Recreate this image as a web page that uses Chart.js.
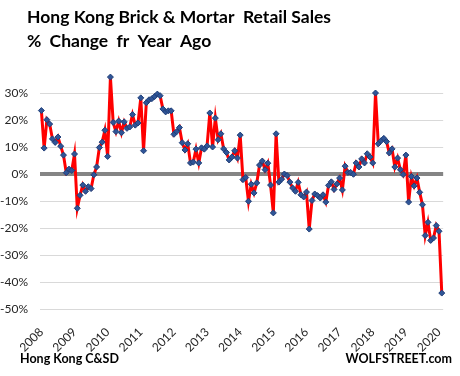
<!DOCTYPE html>
<html>
<head>
<meta charset="utf-8">
<script src="https://cdn.jsdelivr.net/npm/chart.js@4.4.1/dist/chart.umd.min.js"></script>
<style>
  html, body { margin: 0; padding: 0; background: #fff; }
</style>
</head>
<body>
<canvas id="retailChart" width="460" height="376"></canvas>
<script>
// % change from a year ago, monthly
const years = ["2008", "2009", "2010", "2011", "2012", "2013", "2014", "2015", "2016", "2017", "2018", "2019", "2020"];
const y2008 = [23.5, 9.6, 20.1, 18.5, 13.0, 11.7, 13.7, 10.3, 7.0, 0.5, 1.8, 1.3];
const y2009 = [7.4, -12.7, -7.9, -4.1, -6.4, -4.7, -5.4, -0.3, 2.6, 9.8, 11.8, 16.2];
const y2010 = [6.5, 35.9, 19.1, 15.7, 19.6, 15.3, 19.3, 16.9, 17.4, 22.0, 18.1, 18.9];
const y2011 = [28.2, 8.6, 26.4, 27.5, 27.9, 28.7, 29.6, 29.0, 24.1, 23.0, 23.4, 23.4];
const y2012 = [14.7, 15.7, 17.2, 11.6, 8.9, 11.2, 4.1, 4.4, 9.2, 4.1, 9.7, 9.2];
const y2013 = [10.4, 22.6, 10.0, 20.7, 12.7, 14.9, 9.3, 8.0, 5.2, 6.3, 8.6, 5.9];
const y2014 = [14.4, -2.1, -1.3, -10.1, -3.8, -7.0, -3.3, 3.3, 4.8, 1.6, 4.0, -4.1];
const y2015 = [-14.4, 14.9, -3.0, -1.9, 0.0, -0.6, -3.0, -5.2, -6.4, -3.1, -7.7, -8.5];
const y2016 = [-6.7, -20.4, -9.8, -7.4, -8.0, -8.9, -7.7, -10.4, -4.2, -2.9, -5.7, -3.7];
const y2017 = [-1.5, -5.9, 2.9, 0.6, 0.6, -0.1, 4.1, 2.6, 5.6, 4.1, 7.5, 6.3];
const y2018 = [4.1, 30.0, 11.2, 12.3, 13.2, 12.0, 7.8, 9.3, 2.6, 5.9, 1.6, -0.2];
const y2019 = [7.0, -10.4, -0.9, -4.4, -1.5, -6.8, -11.4, -22.8, -17.9, -24.6, -23.7, -19.1];
const y2020 = [-21.2, -44.1];

const titleLines = ["Hong Kong Brick & Mortar  Retail Sales", "% Change fr Year Ago"];
const sourceText = "Hong Kong C&SD";
const siteText = "WOLFSTREET.com";

const values = [].concat(y2008, y2009, y2010, y2011, y2012, y2013, y2014, y2015, y2016, y2017, y2018, y2019, y2020);
const labels = values.map((v, i) => years[Math.floor(i / 12)] + "-" + String((i % 12) + 1).padStart(2, "0"));

// title + footer texts
const textPlugin = {
  id: "texts",
  afterDraw(chart) {
    const c = chart.ctx;
    c.save();
    c.fillStyle = "#000";
    c.textBaseline = "alphabetic";
    c.textAlign = "left";
    c.font = "bold 17.5px Lato";
    c.fillText(titleLines[0], 27, 23);
    c.wordSpacing = "4px";
    c.fillText(titleLines[1], 27, 47);
    c.wordSpacing = "0px";
    c.font = "bold 12.5px Lato";
    c.fillText(sourceText, 20, 363);
    c.textAlign = "right";
    c.fillText(siteText, 452, 363);
    c.restore();
  }
};

const ctx = document.getElementById("retailChart");
new Chart(ctx, {
  type: "line",
  data: {
    labels: labels,
    datasets: [
      {
        data: values,
        borderColor: "#ff0000",
        borderWidth: 3,
        tension: 0,
        pointStyle: "rectRot",
        pointRadius: 3,
        pointBackgroundColor: "#2f5597",
        pointBorderColor: "#203f78",
        pointBorderWidth: 1,
      },
    ],
  },
  options: {
    responsive: false,
    animation: false,
    layout: { padding: { top: 66, right: 12, bottom: 22, left: 0 } },
    plugins: {
      legend: { display: false },
      tooltip: { enabled: false },
    },
    scales: {
      x: {
        type: "category",
        offset: true,
        grid: { display: false },
        border: { display: false },
        ticks: {
          autoSkip: false,
          minRotation: 45,
          maxRotation: 45,
          padding: 8,
          color: "#262626",
          font: { family: "Lato", size: 12 },
          callback: (v, i) => (i % 12 === 0 ? years[i / 12] : ""),
        },
        afterFit: (s) => { s.height = 45; },
      },
      y: {
        min: -50,
        max: 40,
        border: { display: false },
        grid: {
          drawTicks: false,
          color: (c) => (c.tick.value === 0 ? "#858585" : c.tick.value === 40 ? "rgba(0,0,0,0)" : "#d9d9d9"),
          lineWidth: (c) => (c.tick.value === 0 ? 4 : 1),
        },
        ticks: {
          stepSize: 10,
          padding: 12,
          color: "#262626",
          font: { family: "Lato", size: 12 },
          callback: (v) => (v === 40 ? "" : v + "%"),
        },
        afterFit: (s) => { s.width = 40; },
      },
    },
  },
  plugins: [textPlugin],
});
</script>
</body>
</html>
